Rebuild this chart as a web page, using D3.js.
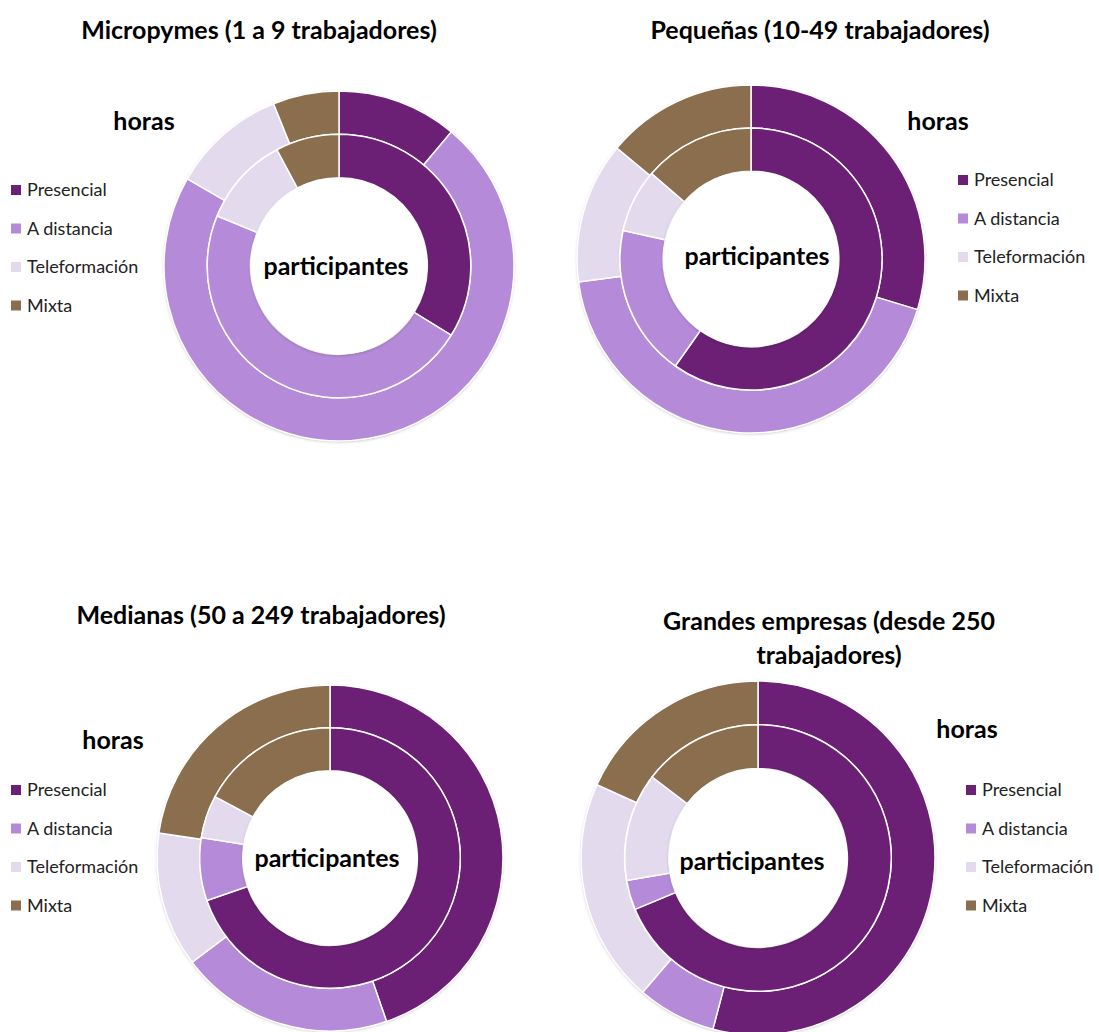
<!DOCTYPE html>
<html>
<head>
<meta charset="utf-8">
<script src="https://cdn.jsdelivr.net/npm/d3@7"></script>
<style>
  body { margin: 0; background: #fff; }
  text { font-family: Lato, "Open Sans", sans-serif; }
</style>
</head>
<body>
<div id="chart"></div>
<script>
// categories shared by all four charts
var categories = ["Presencial", "A distancia", "Teleformación", "Mixta"];
var colors = ["#6b1f75", "#b58ad8", "#e4daee", "#8a6e4e"];

// % of hours (outer ring) and participants (inner ring)
var horasMicro = [11.1, 72.2, 10.6, 6.1];
var partMicro = [33.8, 47.4, 11.0, 7.8];
var horasPeq = [29.7, 43.2, 13.1, 14.0];
var partPeq = [59.8, 18.7, 7.8, 13.7];
var horasMed = [44.7, 20.0, 12.6, 22.7];
var partMed = [69.7, 7.8, 5.3, 17.2];
var horasGra = [54.1, 7.2, 20.5, 18.2];
var partGra = [68.7, 3.6, 13.1, 14.6];

var titles = [
  ["Micropymes (1 a 9 trabajadores)"],
  ["Pequeñas (10-49 trabajadores)"],
  ["Medianas (50 a 249 trabajadores)"],
  ["Grandes empresas (desde 250", "trabajadores)"]
];

var width = 1099, height = 1032;

// layout for each panel (px, py = offset of the "participantes" label)
var panels = [
  { horas: horasMicro, part: partMicro, title: titles[0], tx: 259, ty: 39,
    cx: 339, cy: 266, R: 175, hx: 144, hy: 130, lx: 11, ly: 190, px: -3, py: 9 },
  { horas: horasPeq, part: partPeq, title: titles[1], tx: 820, ty: 39,
    cx: 751, cy: 259, R: 174, hx: 938, hy: 130, lx: 958, ly: 180, px: 6, py: 6 },
  { horas: horasMed, part: partMed, title: titles[2], tx: 261, ty: 624,
    cx: 330, cy: 858, R: 173, hx: 113, hy: 749, lx: 11, ly: 790, px: -3, py: 9 },
  { horas: horasGra, part: partGra, title: titles[3], tx: 829, ty: 630,
    cx: 758, cy: 858, R: 177, hx: 967, hy: 738, lx: 966, ly: 790, px: -6, py: 12 }
];

var svg = d3.select("#chart").append("svg")
  .attr("width", width)
  .attr("height", height);

var defs = svg.append("defs");
var f = defs.append("filter").attr("id", "shadow")
  .attr("x", "-10%").attr("y", "-10%").attr("width", "120%").attr("height", "120%");
f.append("feDropShadow").attr("dx", 0).attr("dy", 1).attr("stdDeviation", 1.5)
  .attr("flood-color", "#000").attr("flood-opacity", 0.25);

var pie = d3.pie().sort(null).value(function(d) { return d; });

panels.forEach(function(p) {
  var g = svg.append("g");

  // title
  var t = g.append("text")
    .attr("x", p.tx).attr("y", p.ty)
    .attr("text-anchor", "middle")
    .style("font-size", "25px").style("font-weight", "bold").style("fill", "#000");
  p.title.forEach(function(line, i) {
    t.append("tspan").attr("x", p.tx).attr("dy", i ? 34 : 0).text(line);
  });

  var c = g.append("g").attr("transform", "translate(" + p.cx + "," + p.cy + ")");

  var r0 = p.R * 0.505, r1 = p.R * 0.753;
  var outerArc = d3.arc().innerRadius(r1).outerRadius(p.R);
  var innerArc = d3.arc().innerRadius(r0).outerRadius(r1);

  // faint shadow ring behind the donut
  c.append("circle").attr("r", p.R).attr("fill", "#fff").attr("filter", "url(#shadow)");

  c.selectAll(".outer")
    .data(pie(p.horas))
    .enter().append("path")
    .attr("class", "outer")
    .attr("d", outerArc)
    .style("fill", function(d, i) { return colors[i]; })
    .style("stroke", "#fff")
    .style("stroke-width", 1.5);

  c.selectAll(".inner")
    .data(pie(p.part))
    .enter().append("path")
    .attr("class", "inner")
    .attr("d", innerArc)
    .style("fill", function(d, i) { return colors[i]; })
    .style("stroke", "#fff")
    .style("stroke-width", 1.5);

  c.append("circle").attr("r", r0).attr("fill", "#fff").attr("filter", "url(#shadow)");

  c.append("text")
    .attr("x", p.px).attr("y", p.py)
    .attr("text-anchor", "middle")
    .style("font-size", "25px").style("font-weight", "bold").style("fill", "#000")
    .text("participantes");

  g.append("text")
    .attr("x", p.hx).attr("y", p.hy)
    .attr("text-anchor", "middle")
    .style("font-size", "25px").style("font-weight", "bold").style("fill", "#000")
    .text("horas");

  // legend
  var leg = g.selectAll(".leg")
    .data(categories)
    .enter().append("g")
    .attr("transform", function(d, i) { return "translate(" + p.lx + "," + (p.ly + i * 38.5) + ")"; });
  leg.append("rect")
    .attr("x", 0).attr("y", -5).attr("width", 10).attr("height", 10)
    .style("fill", function(d, i) { return colors[i]; });
  leg.append("text")
    .attr("x", 16).attr("y", 6)
    .style("font-size", "18px").style("fill", "#222")
    .text(function(d) { return d; });
});
</script>
</body>
</html>
